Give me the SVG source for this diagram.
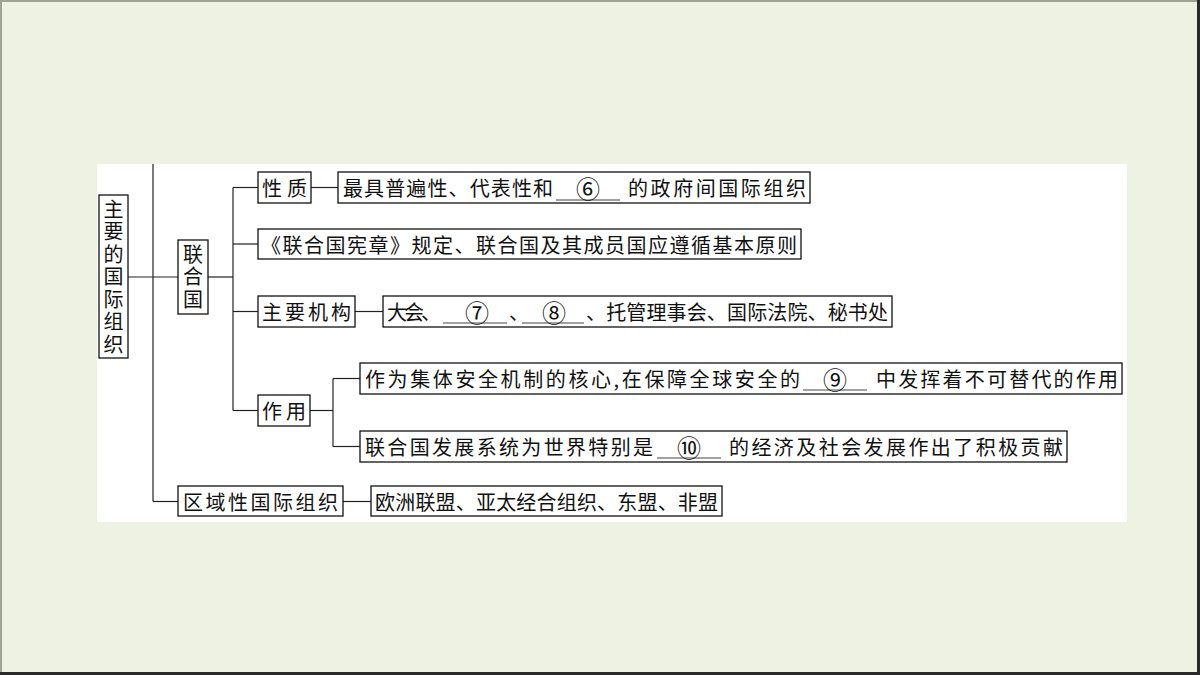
<svg xmlns="http://www.w3.org/2000/svg" width="1200" height="675" viewBox="0 0 1200 675">
<style>
.t{font-family:"Noto Sans CJK SC","Noto Sans",sans-serif;font-size:20px;fill:#111;dominant-baseline:central}
.tc{text-anchor:middle}
.n{font-size:24px}
.v{writing-mode:vertical-rl;text-anchor:middle;letter-spacing:2.5px}
.box{fill:#fff;stroke:#111;stroke-width:1.3}
.ln{stroke:#222;stroke-width:1.2;fill:none}
.ul{stroke:#444;stroke-width:1}
</style>
<rect x="0" y="0" width="1200" height="675" fill="#EDF2E3"/>
<path d="M1,675 V1 H1200" fill="none" stroke="#9CA393" stroke-width="2"/>
<path d="M0,673.5 H1198.5 V0" fill="none" stroke="#2a2a2a" stroke-width="3"/>
<rect x="97" y="164" width="1030" height="358" fill="#fff"/>

<g id="connectors" class="ln">
<line x1="153" y1="164" x2="153" y2="501.5"/>
<line x1="153" y1="501.5" x2="178" y2="501.5"/>
<line x1="128" y1="277" x2="178" y2="277"/>
<line x1="208" y1="277" x2="233" y2="277"/>
<line x1="233" y1="187.5" x2="233" y2="410.5"/>
<line x1="233" y1="187.5" x2="258" y2="187.5"/>
<line x1="233" y1="244" x2="258" y2="244"/>
<line x1="233" y1="311.5" x2="258" y2="311.5"/>
<line x1="233" y1="410.5" x2="258" y2="410.5"/>
<line x1="311" y1="187.5" x2="338" y2="187.5"/>
<line x1="355" y1="311.5" x2="383" y2="311.5"/>
<line x1="310" y1="410.5" x2="333" y2="410.5"/>
<line x1="333" y1="378.5" x2="333" y2="446.5"/>
<line x1="333" y1="378.5" x2="360" y2="378.5"/>
<line x1="333" y1="446.5" x2="360" y2="446.5"/>
<line x1="343" y1="501.5" x2="371" y2="501.5"/>
</g>

<g id="main">
<rect class="box" x="99" y="195" width="29" height="163"/>
<text class="t v" x="113.5" y="278">主要的国际组织</text>
</g>

<g id="un">
<rect class="box" x="178" y="240" width="30" height="74"/>
<text class="t v" x="193" y="278">联合国</text>
</g>

<g id="nature">
<rect class="box" x="258" y="172" width="53" height="31"/>
<text class="t" x="262" y="187.5" textLength="45" lengthAdjust="spacing">性质</text>
</g>
<g id="nature-desc">
<rect class="box" x="338" y="172" width="472" height="31"/>
<text class="t" x="343" y="187.5" textLength="210" lengthAdjust="spacing">最具普遍性、代表性和</text>
<line class="ul" x1="556" y1="200" x2="620" y2="200"/>
<text class="t tc n" x="588" y="187.5">⑥</text>
<text class="t" x="628" y="187.5" textLength="178" lengthAdjust="spacing">的政府间国际组织</text>
</g>

<g id="charter">
<rect class="box" x="258" y="229" width="543" height="30"/>
<text class="t" x="261" y="244" textLength="536" lengthAdjust="spacing">《联合国宪章》规定、联合国及其成员国应遵循基本原则</text>
</g>

<g id="organs">
<rect class="box" x="258" y="296" width="97" height="31"/>
<text class="t" x="262" y="311.5" textLength="89" lengthAdjust="spacing">主要机构</text>
</g>
<g id="organs-desc">
<rect class="box" x="383" y="296" width="509" height="31"/>
<text class="t" x="387" y="311.5" textLength="54" lengthAdjust="spacing">大会、</text>
<line class="ul" x1="443" y1="323" x2="507" y2="323"/>
<text class="t tc n" x="477" y="311.5">⑦</text>
<text class="t" x="509" y="311.5">、</text>
<line class="ul" x1="522" y1="323" x2="584" y2="323"/>
<text class="t tc n" x="554" y="311.5">⑧</text>
<text class="t" x="586" y="311.5" textLength="302" lengthAdjust="spacing">、托管理事会、国际法院、秘书处</text>
</g>

<g id="role">
<rect class="box" x="258" y="395" width="52" height="31"/>
<text class="t" x="262" y="410.5" textLength="44" lengthAdjust="spacing">作用</text>
</g>
<g id="role-1">
<rect class="box" x="360" y="363" width="762" height="31"/>
<text class="t" x="365" y="378.5" textLength="435" lengthAdjust="spacing">作为集体安全机制的核心,在保障全球安全的</text>
<line class="ul" x1="803" y1="390" x2="867" y2="390"/>
<text class="t tc n" x="835" y="378.5">⑨</text>
<text class="t" x="876" y="378.5" textLength="242" lengthAdjust="spacing">中发挥着不可替代的作用</text>
</g>
<g id="role-2">
<rect class="box" x="360" y="431" width="707" height="31"/>
<text class="t" x="365" y="446.5" textLength="288" lengthAdjust="spacing">联合国发展系统为世界特别是</text>
<line class="ul" x1="657" y1="458" x2="721" y2="458"/>
<text class="t tc n" x="689" y="446.5">⑩</text>
<text class="t" x="729" y="446.5" textLength="334" lengthAdjust="spacing">的经济及社会发展作出了积极贡献</text>
</g>

<g id="regional">
<rect class="box" x="178" y="486" width="165" height="30"/>
<text class="t" x="183" y="501.5" textLength="155" lengthAdjust="spacing">区域性国际组织</text>
</g>
<g id="regional-desc">
<rect class="box" x="371" y="486" width="351" height="30"/>
<text class="t" x="375" y="501.5" textLength="343" lengthAdjust="spacing">欧洲联盟、亚太经合组织、东盟、非盟</text>
</g>
</svg>
